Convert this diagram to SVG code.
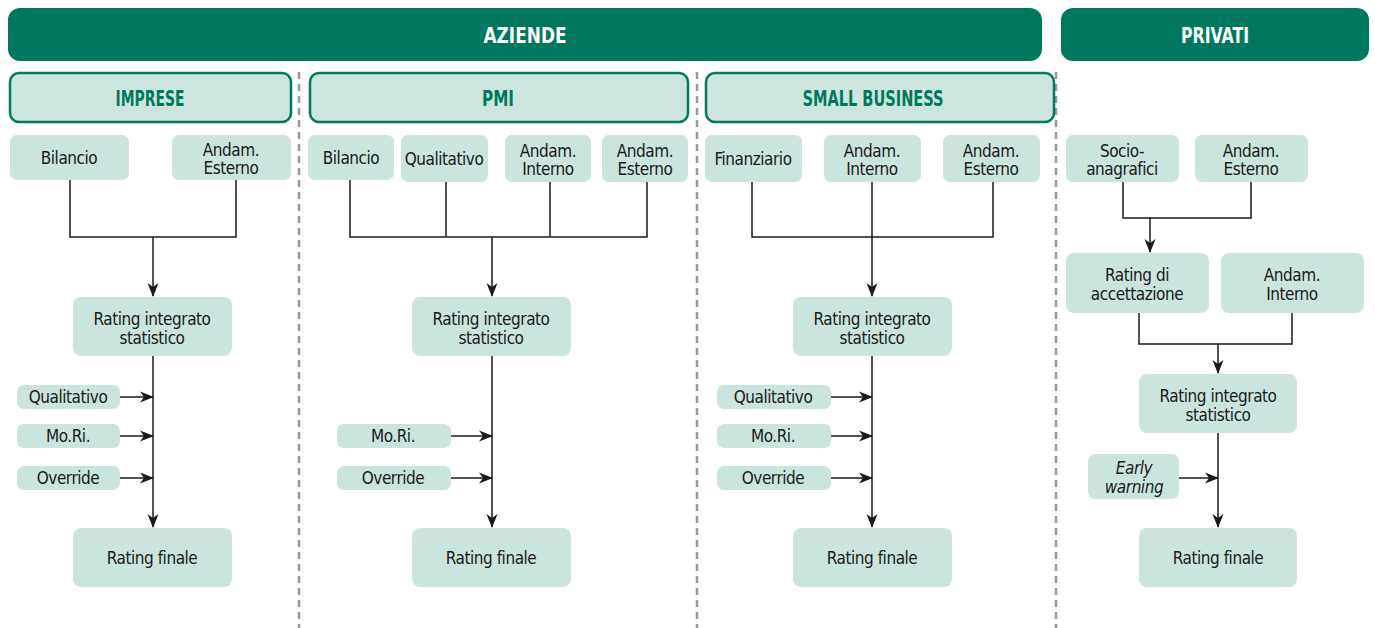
<svg xmlns="http://www.w3.org/2000/svg" width="1375" height="628" viewBox="0 0 1375 628">
<style>
.bar{fill:#00785d}
.hdr{fill:#cde5df;stroke:#00785d;stroke-width:2.5}
.box{fill:#cce4de}
.t{font-family:"Liberation Sans Narrow","DejaVu Sans Condensed","Liberation Sans",sans-serif;font-size:17px;letter-spacing:-0.45px;fill:#1a1a1a;text-anchor:middle}
.it{font-style:italic}
.ht{font-family:"Liberation Sans Narrow","DejaVu Sans Condensed","Liberation Sans",sans-serif;font-size:22px;font-weight:bold;text-anchor:middle}
.w{fill:#ffffff}
.g{fill:#00785d}
.ln{fill:none;stroke:#1a1a1a;stroke-width:1.5}
.ar{fill:none;stroke:#1a1a1a;stroke-width:1.5;marker-end:url(#ah)}
.dv{stroke:#999;stroke-width:2.5;stroke-dasharray:7,5}
</style>
<defs>
<marker id="ah" markerUnits="userSpaceOnUse" markerWidth="14" markerHeight="12" viewBox="0 0 14 12" refX="13" refY="6" orient="auto">
<path d="M0,0.5 L14,6 L0,11.5 L4,6 z" fill="#1a1a1a"/>
</marker>
</defs>
<g id="dividers">
<line class="dv" x1="299" y1="72" x2="299" y2="628"/>
<line class="dv" x1="697" y1="72" x2="697" y2="628"/>
<line class="dv" x1="1056" y1="72" x2="1056" y2="628"/>
</g>
<g id="aziende"><rect class="bar" x="8" y="8" width="1034" height="53" rx="12"/><text class="ht w" x="525" y="43" textLength="83" lengthAdjust="spacingAndGlyphs">AZIENDE</text></g>
<g id="privati"><rect class="bar" x="1061" y="8" width="308" height="53" rx="12"/><text class="ht w" x="1215" y="43" textLength="68" lengthAdjust="spacingAndGlyphs">PRIVATI</text></g>
<g id="imprese"><rect class="hdr" x="10" y="73" width="281" height="49" rx="9"/><text class="ht g" x="150" y="106" textLength="69" lengthAdjust="spacingAndGlyphs">IMPRESE</text></g>
<g id="pmi"><rect class="hdr" x="310" y="73" width="378" height="49" rx="9"/><text class="ht g" x="498" y="106" textLength="32" lengthAdjust="spacingAndGlyphs">PMI</text></g>
<g id="smallbusiness"><rect class="hdr" x="706" y="73" width="348" height="49" rx="9"/><text class="ht g" x="873" y="106" textLength="141" lengthAdjust="spacingAndGlyphs">SMALL BUSINESS</text></g>

<g id="connectors">
<path class="ln" d="M70,180 V237 H236 V180"/>
<path class="ar" d="M153,237 V296"/>
<path class="ar" d="M153,356 V527"/>
<path class="ar" d="M120,397 H153"/>
<path class="ar" d="M120,436 H153"/>
<path class="ar" d="M120,478 H153"/>
<path class="ln" d="M350,180 V237 H647 V182 M446,182 V237 M550,182 V237"/>
<path class="ar" d="M492,237 V296"/>
<path class="ar" d="M492,356 V527"/>
<path class="ar" d="M451,436 H492"/>
<path class="ar" d="M451,478 H492"/>
<path class="ln" d="M752,182 V237 H993 V182"/>
<path class="ar" d="M872,182 V296"/>
<path class="ar" d="M872,356 V527"/>
<path class="ar" d="M831,397 H872"/>
<path class="ar" d="M831,436 H872"/>
<path class="ar" d="M831,478 H872"/>
<path class="ln" d="M1123,182 V218 H1251 V182"/>
<path class="ar" d="M1150,218 V252"/>
<path class="ln" d="M1139,313 V344 H1292 V313"/>
<path class="ar" d="M1218,344 V373"/>
<path class="ar" d="M1218,433 V527"/>
<path class="ar" d="M1179,478 H1218"/>
</g>

<g id="imp-bilancio"><rect class="box" x="10" y="135" width="119" height="45" rx="7"/><text class="t" x="69" y="164">Bilancio</text></g>
<g id="imp-esterno"><rect class="box" x="172" y="135" width="119" height="45" rx="7"/><text class="t" x="231" y="156">Andam.</text><text class="t" x="231" y="174">Esterno</text></g>
<g id="imp-rating"><rect class="box" x="73" y="297" width="159" height="59" rx="8"/><text class="t" x="152" y="325">Rating integrato</text><text class="t" x="152" y="344">statistico</text></g>
<g id="imp-qual"><rect class="box" x="17" y="385" width="103" height="24" rx="7"/><text class="t" x="68" y="403">Qualitativo</text></g>
<g id="imp-mori"><rect class="box" x="17" y="424" width="103" height="24" rx="7"/><text class="t" x="68" y="442">Mo.Ri.</text></g>
<g id="imp-override"><rect class="box" x="17" y="466" width="103" height="24" rx="7"/><text class="t" x="68" y="484">Override</text></g>
<g id="imp-finale"><rect class="box" x="73" y="528" width="159" height="59" rx="8"/><text class="t" x="152" y="564">Rating finale</text></g>

<g id="pmi-bilancio"><rect class="box" x="308" y="135" width="86" height="45" rx="7"/><text class="t" x="351" y="164">Bilancio</text></g>
<g id="pmi-qual"><rect class="box" x="401" y="135" width="87" height="47" rx="7"/><text class="t" x="444" y="165">Qualitativo</text></g>
<g id="pmi-interno"><rect class="box" x="505" y="135" width="86" height="47" rx="7"/><text class="t" x="548" y="157">Andam.</text><text class="t" x="548" y="175">Interno</text></g>
<g id="pmi-esterno"><rect class="box" x="602" y="135" width="86" height="47" rx="7"/><text class="t" x="645" y="157">Andam.</text><text class="t" x="645" y="175">Esterno</text></g>
<g id="pmi-rating"><rect class="box" x="412" y="297" width="159" height="59" rx="8"/><text class="t" x="491" y="325">Rating integrato</text><text class="t" x="491" y="344">statistico</text></g>
<g id="pmi-mori"><rect class="box" x="337" y="424" width="114" height="24" rx="7"/><text class="t" x="393" y="442">Mo.Ri.</text></g>
<g id="pmi-override"><rect class="box" x="337" y="466" width="114" height="24" rx="7"/><text class="t" x="393" y="484">Override</text></g>
<g id="pmi-finale"><rect class="box" x="412" y="528" width="159" height="59" rx="8"/><text class="t" x="491" y="564">Rating finale</text></g>

<g id="sb-fin"><rect class="box" x="705" y="135" width="97" height="47" rx="7"/><text class="t" x="753" y="165">Finanziario</text></g>
<g id="sb-interno"><rect class="box" x="824" y="135" width="97" height="47" rx="7"/><text class="t" x="872" y="157">Andam.</text><text class="t" x="872" y="175">Interno</text></g>
<g id="sb-esterno"><rect class="box" x="943" y="135" width="97" height="47" rx="7"/><text class="t" x="991" y="157">Andam.</text><text class="t" x="991" y="175">Esterno</text></g>
<g id="sb-rating"><rect class="box" x="793" y="297" width="159" height="59" rx="8"/><text class="t" x="872" y="325">Rating integrato</text><text class="t" x="872" y="344">statistico</text></g>
<g id="sb-qual"><rect class="box" x="717" y="385" width="114" height="24" rx="7"/><text class="t" x="773" y="403">Qualitativo</text></g>
<g id="sb-mori"><rect class="box" x="717" y="424" width="114" height="24" rx="7"/><text class="t" x="773" y="442">Mo.Ri.</text></g>
<g id="sb-override"><rect class="box" x="717" y="466" width="114" height="24" rx="7"/><text class="t" x="773" y="484">Override</text></g>
<g id="sb-finale"><rect class="box" x="793" y="528" width="159" height="59" rx="8"/><text class="t" x="872" y="564">Rating finale</text></g>

<g id="pr-socio"><rect class="box" x="1066" y="135" width="113" height="47" rx="7"/><text class="t" x="1122" y="157">Socio-</text><text class="t" x="1122" y="175">anagrafici</text></g>
<g id="pr-esterno"><rect class="box" x="1195" y="135" width="113" height="47" rx="7"/><text class="t" x="1251" y="157">Andam.</text><text class="t" x="1251" y="175">Esterno</text></g>
<g id="pr-accett"><rect class="box" x="1066" y="253" width="143" height="60" rx="8"/><text class="t" x="1137" y="281">Rating di</text><text class="t" x="1137" y="300">accettazione</text></g>
<g id="pr-interno"><rect class="box" x="1221" y="253" width="143" height="60" rx="8"/><text class="t" x="1292" y="281">Andam.</text><text class="t" x="1292" y="300">Interno</text></g>
<g id="pr-rating"><rect class="box" x="1139" y="374" width="158" height="59" rx="8"/><text class="t" x="1218" y="402">Rating integrato</text><text class="t" x="1218" y="421">statistico</text></g>
<g id="pr-early"><rect class="box" x="1088" y="454" width="91" height="45" rx="7"/><text class="t it" x="1134" y="474">Early</text><text class="t it" x="1134" y="493">warning</text></g>
<g id="pr-finale"><rect class="box" x="1139" y="528" width="158" height="59" rx="8"/><text class="t" x="1218" y="564">Rating finale</text></g>
</svg>
